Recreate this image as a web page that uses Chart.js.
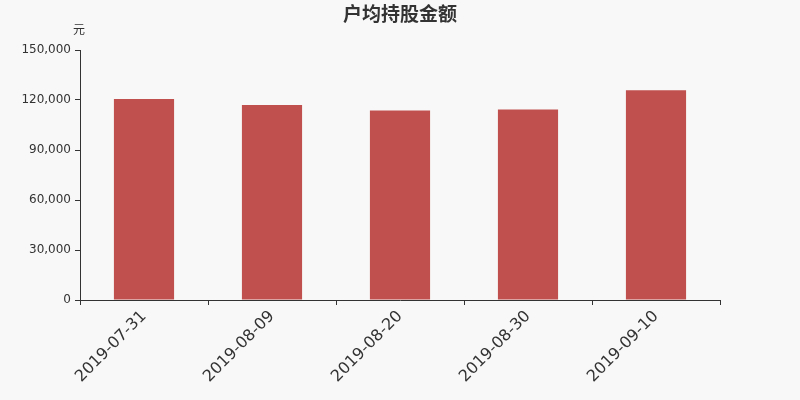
<!DOCTYPE html>
<html>
<head>
<meta charset="utf-8">
<script src="https://cdn.jsdelivr.net/npm/chart.js@4"></script>
<style>
  html, body { margin: 0; padding: 0; background: #f8f8f8; }
  #wrap { width: 800px; height: 400px; }
</style>
</head>
<body>
<div id="wrap"><canvas id="main_plot" width="800" height="400"></canvas></div>
<script>
const dates = ['2019-07-31', '2019-08-09', '2019-08-20', '2019-08-30', '2019-09-10'];
const amounts = [120600, 117000, 113700, 114300, 125800];
const yTicks = [0, 30000, 60000, 90000, 120000, 150000];

// unit label above the y axis
const unitLabel = {
    id: 'unitLabel',
    afterDraw(chart) {
        const ctx = chart.ctx;
        ctx.save();
        ctx.font = '12px "Noto Sans CJK SC"';
        ctx.fillStyle = '#333';
        ctx.textAlign = 'center';
        ctx.textBaseline = 'middle';
        ctx.fillText('元', chart.chartArea.left - 1, 29);
        ctx.restore();
    }
};

const chart = new Chart(document.getElementById('main_plot').getContext('2d'), {
    type: 'bar',
    data: {
        labels: dates,
        datasets: [{
            label: '户均持股金额',
            data: amounts,
            backgroundColor: '#c0504e',
            barPercentage: 0.47,
            categoryPercentage: 1
        }]
    },
    options: {
        responsive: false,
        animation: false,
        layout: { padding: 0 },
        plugins: {
            legend: { display: false },
            tooltip: { enabled: false },
            title: {
                display: true,
                text: '户均持股金额',
                color: '#333',
                font: { family: '"Noto Sans CJK SC"', size: 19, weight: 'bold', lineHeight: 1.2 },
                padding: { top: 2, bottom: 25.2 }
            }
        },
        scales: {
            x: {
                grid: {
                    display: true,
                    drawOnChartArea: false,
                    drawTicks: true,
                    tickLength: 5,
                    color: '#333',
                    offset: true
                },
                border: { display: true, color: '#333' },
                ticks: {
                    color: '#333',
                    font: { family: 'DejaVu Sans', size: 16 },
                    maxRotation: 45,
                    minRotation: 45,
                    padding: 2
                },
                afterFit(axis) { axis.height = 100; }
            },
            y: {
                min: 0,
                max: 150000,
                afterBuildTicks(axis) { axis.ticks = yTicks.map(v => ({ value: v })); },
                grid: {
                    display: true,
                    drawOnChartArea: false,
                    drawTicks: true,
                    tickLength: 5,
                    color: '#333'
                },
                border: { display: true, color: '#333' },
                ticks: {
                    color: '#333',
                    font: { family: 'DejaVu Sans', size: 12 },
                    padding: 4,
                    callback: v => v.toLocaleString('en-US')
                },
                afterFit(axis) { axis.width = 80; }
            },
            // empty right-hand axis, only keeps the plot symmetric
            yRight: {
                position: 'right',
                display: true,
                grid: { display: false },
                border: { display: false },
                ticks: { display: false },
                afterFit(axis) { axis.width = 80; }
            }
        }
    },
    plugins: [unitLabel]
});
</script>
</body>
</html>
